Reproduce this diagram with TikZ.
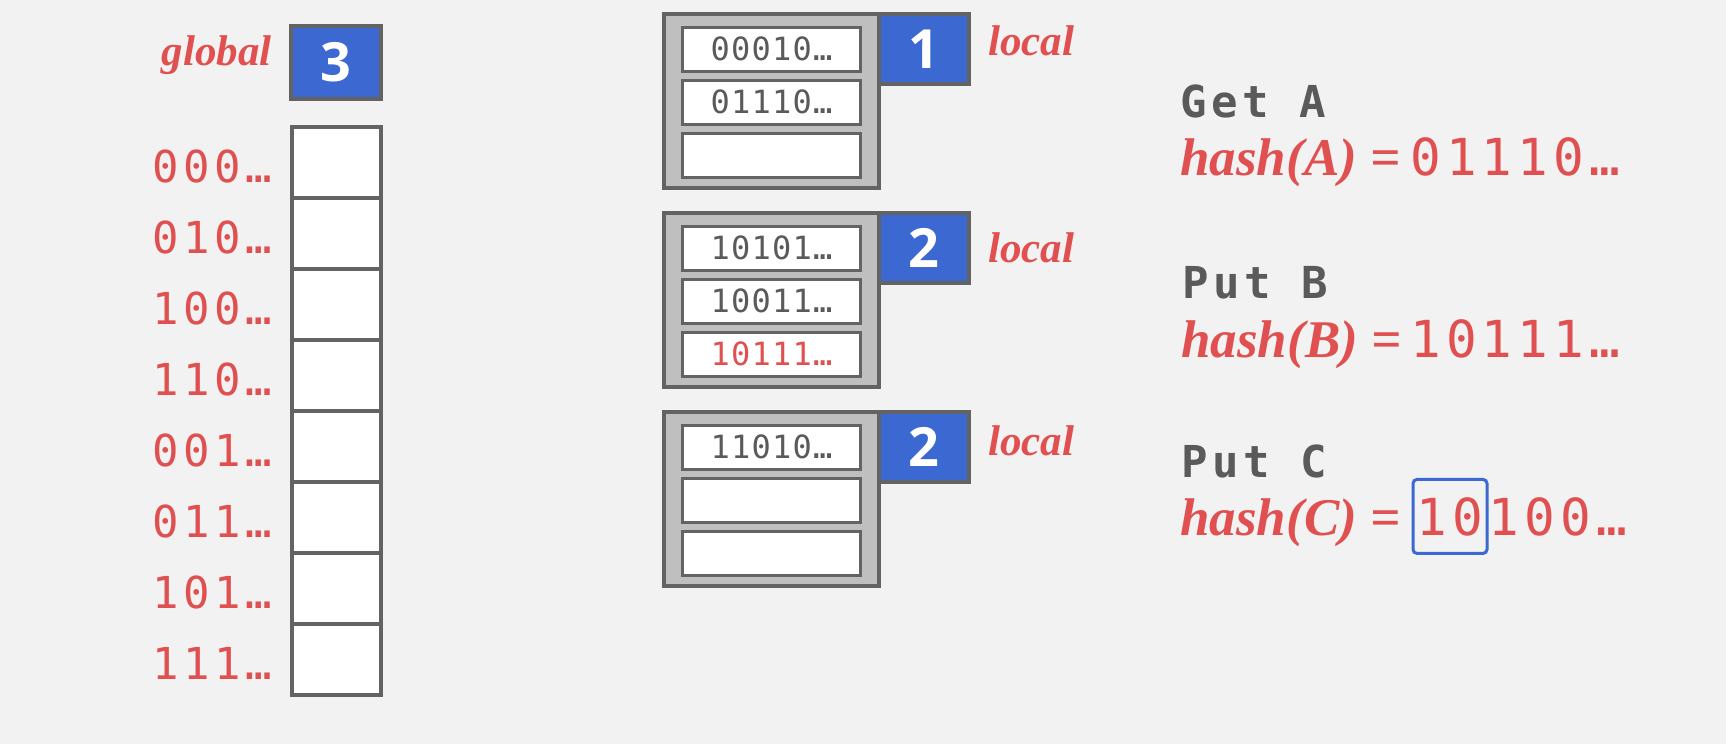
\documentclass[tikz,border=0pt]{standalone}
\usepackage{fontspec}
\usepackage{xcolor}
\definecolor{bggray}{HTML}{F2F2F2}
\definecolor{hotred}{HTML}{E05050}
\definecolor{depthblue}{HTML}{3B68D1}
\definecolor{edgegray}{HTML}{636363}
\definecolor{bucketgray}{HTML}{BFBFBF}
\definecolor{textgray}{HTML}{5A5A5A}
\newfontfamily\bitsfont[LetterSpace=10]{DejaVu Sans Mono}
\newfontfamily\slotfont[LetterSpace=4]{DejaVu Sans Mono}
\newfontfamily\notefont{Liberation Serif}
\newfontfamily\depthfont{Open Sans}
\usetikzlibrary{positioning}

\begin{document}
\begin{tikzpicture}[
      x=0.5pt, y=-0.5pt,
      dircell/.style={rectangle, draw=edgegray, fill=white, line width=2pt,
                      minimum width=44.5pt, minimum height=35.5pt, inner sep=0pt, outer sep=0pt},
      gdepth/.style={rectangle, draw=edgegray, fill=depthblue, line width=2pt,
                     minimum width=45pt, minimum height=36.5pt, inner sep=0pt, outer sep=0pt,
                     text=white, font=\depthfont\bfseries\fontsize{27}{30}\selectfont},
      ldepth/.style={gdepth, minimum width=45pt, minimum height=35pt},
      bucket/.style={rectangle, draw=edgegray, fill=bucketgray, line width=2pt,
                     minimum width=107.5pt, minimum height=87pt, inner sep=0pt, outer sep=0pt},
      slot/.style={rectangle, draw=edgegray, fill=white, line width=1.5pt,
                   minimum width=89pt, minimum height=22pt, inner sep=0pt,
                   text=textgray, font=\slotfont\fontsize{16}{18}\selectfont},
      tag/.style={text=hotred, inner sep=0pt, font=\notefont\bfseries\itshape\fontsize{21.5}{24}\selectfont},
      dirlbl/.style={text=hotred, inner sep=0pt, yshift=-2pt, font=\bitsfont\fontsize{22}{26}\selectfont},
      op/.style={text=textgray, inner sep=0pt, font=\bitsfont\bfseries\fontsize{22}{26}\selectfont},
      hashfn/.style={text=hotred, inner sep=0pt, font=\notefont\bfseries\itshape\fontsize{26.5}{30}\selectfont},
      hashval/.style={text=hotred, inner sep=0pt, font=\bitsfont\fontsize{25.5}{29}\selectfont},
      pick/.style={hashval, draw=depthblue, line width=1.5pt, rounded corners=2pt,
                   minimum width=37pt, minimum height=37pt},
    ]
    \fill[bggray] (0,0) rectangle (1726,744);
    \useasboundingbox (0,0) rectangle (1726,744);

    % global depth + directory
    \node[gdepth] (gd) at (336,62.5) {3};
    \node[tag, anchor=base east] (glbl) at (272,65) {global};
    \foreach \bits [count=\i from 0] in {000,010,100,110,001,011,101,111} {
      \node[dircell] (cell\i) at (336.5,{162.5+71*\i}) {};
      \node[dirlbl, left=10pt of cell\i] (lbl\i) {\bits…};
    }

    % buckets
    \node[bucket] (b1) at (771.5,101) {};
    \node[slot] (b1s1) at (771.5,49) {00010…};
    \node[slot] (b1s2) at (771.5,102) {01110…};
    \node[slot] (b1s3) at (771.5,155) {};
    \node[ldepth, anchor=north west] (d1) at (b1.north east) {1};
    \node[tag, anchor=base west] (l1) at (988,55) {local};

    \node[bucket] (b2) at (771.5,300) {};
    \node[slot] (b2s1) at (771.5,248) {10101…};
    \node[slot] (b2s2) at (771.5,301) {10011…};
    \node[slot, text=hotred] (b2s3) at (771.5,354) {10111…};
    \node[ldepth, anchor=north west] (d2) at (b2.north east) {2};
    \node[tag, anchor=base west] (l2) at (988,262) {local};

    \node[bucket] (b3) at (771.5,499) {};
    \node[slot] (b3s1) at (771.5,447) {11010…};
    \node[slot] (b3s2) at (771.5,500) {};
    \node[slot] (b3s3) at (771.5,553) {};
    \node[ldepth, anchor=north west] (d3) at (b3.north east) {2};
    \node[tag, anchor=base west] (l3) at (988,455) {local};

    % operations
    \node[op, anchor=base west] (geta) at (1180,117) {Get A};
    \node[hashfn, anchor=base west] (hfa) at (1180,175) {hash(A) =};
    \node[hashval, anchor=base west] (hva) at (1410,175) {01110…};

    \node[op, anchor=base west] (putb) at (1182,298) {Put B};
    \node[hashfn, anchor=base west] (hfb) at (1181,357) {hash(B) =};
    \node[hashval, anchor=base west] (hvb) at (1410,357) {10111…};

    \node[op, anchor=base west] (putc) at (1181,477) {Put C};
    \node[hashfn, anchor=base west] (hfc) at (1180,535) {hash(C) =};
    \node[pick, anchor=base] (hcbox) at (1450,535) {10};
    \node[hashval, anchor=base west] (hvc) at (hcbox.base east) {100…};
  \end{tikzpicture}
\end{document}
